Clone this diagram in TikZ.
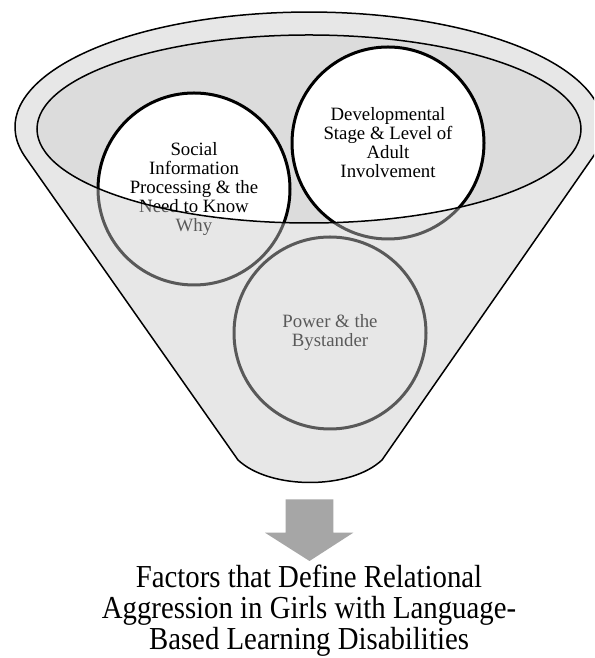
\documentclass[tikz,border=0pt]{standalone}
\usepackage{fontspec}
\setmainfont{Liberation Serif}
\newfontfamily\captionfont{Liberation Serif}[FakeStretch=0.9]
\definecolor{mouthgray}{HTML}{DCDCDC}
\definecolor{bodygray}{RGB}{203,203,203}
\definecolor{arrowgray}{HTML}{A6A6A6}
\begin{document}
\begin{tikzpicture}[x=1pt,y=1pt,
  stage/.style={circle, minimum size=192pt, inner sep=0pt, draw=black,
    line width=3pt, fill=white, align=center,
    font=\fontsize{18.8}{19}\selectfont},
  funnelfront/.style={fill=bodygray, fill opacity=0.443},
  rim/.style={draw=black, line width=1.5pt},
  resultarrow/.style={fill=arrowgray},
  caption/.style={align=center, inner sep=0pt,
    font=\captionfont\fontsize{32}{31}\selectfont},
]
\useasboundingbox (0,0) rectangle (594,658);
\clip (0,0) rectangle (594,658);
\fill[white] (0,0) rectangle (594,658);

% mouth of the funnel, seen from above
\fill[mouthgray] (309,529) ellipse [x radius=272, y radius=94];

% the three factors dropped into the funnel
\node[stage] (social) at (194,469)
  {Social\\Information\\Processing \& the\\Need to Know\\Why};
\node[stage] (dev) at (388,515)
  {Developmental\\Stage \& Level of\\Adult\\Involvement};
\node[stage] (power) at (330,325) {Power \& the\\Bystander};

% translucent front wall of the funnel, open at the mouth
\path[funnelfront, even odd rule]
  (25.6,500.4) arc[start angle=195.4, end angle=-15.4, x radius=294, y radius=115]
  -- (382,198) .. controls (350,168) and (270,168) .. (238,198) -- cycle
  (309,529) ellipse [x radius=272, y radius=94];

% funnel outline and mouth rim
\draw[rim, line join=round]
  (25.6,500.4) arc[start angle=195.4, end angle=-15.4, x radius=294, y radius=115]
  -- (382,198) .. controls (350,168) and (270,168) .. (238,198) -- cycle;
\draw[rim] (309,529) ellipse [x radius=272, y radius=94];

% downward arrow to the result
\fill[resultarrow] (285.7,158.7) -- (333.3,158.7) -- (333.3,125.3)
  -- (353.3,125.3) -- (309.5,97) -- (265,125.3) -- (285.7,125.3) -- cycle;

\node[caption] (factors) at (309,47)
  {Factors that Define Relational\\Aggression in Girls with Language-\\Based Learning Disabilities};
\end{tikzpicture}
\end{document}
